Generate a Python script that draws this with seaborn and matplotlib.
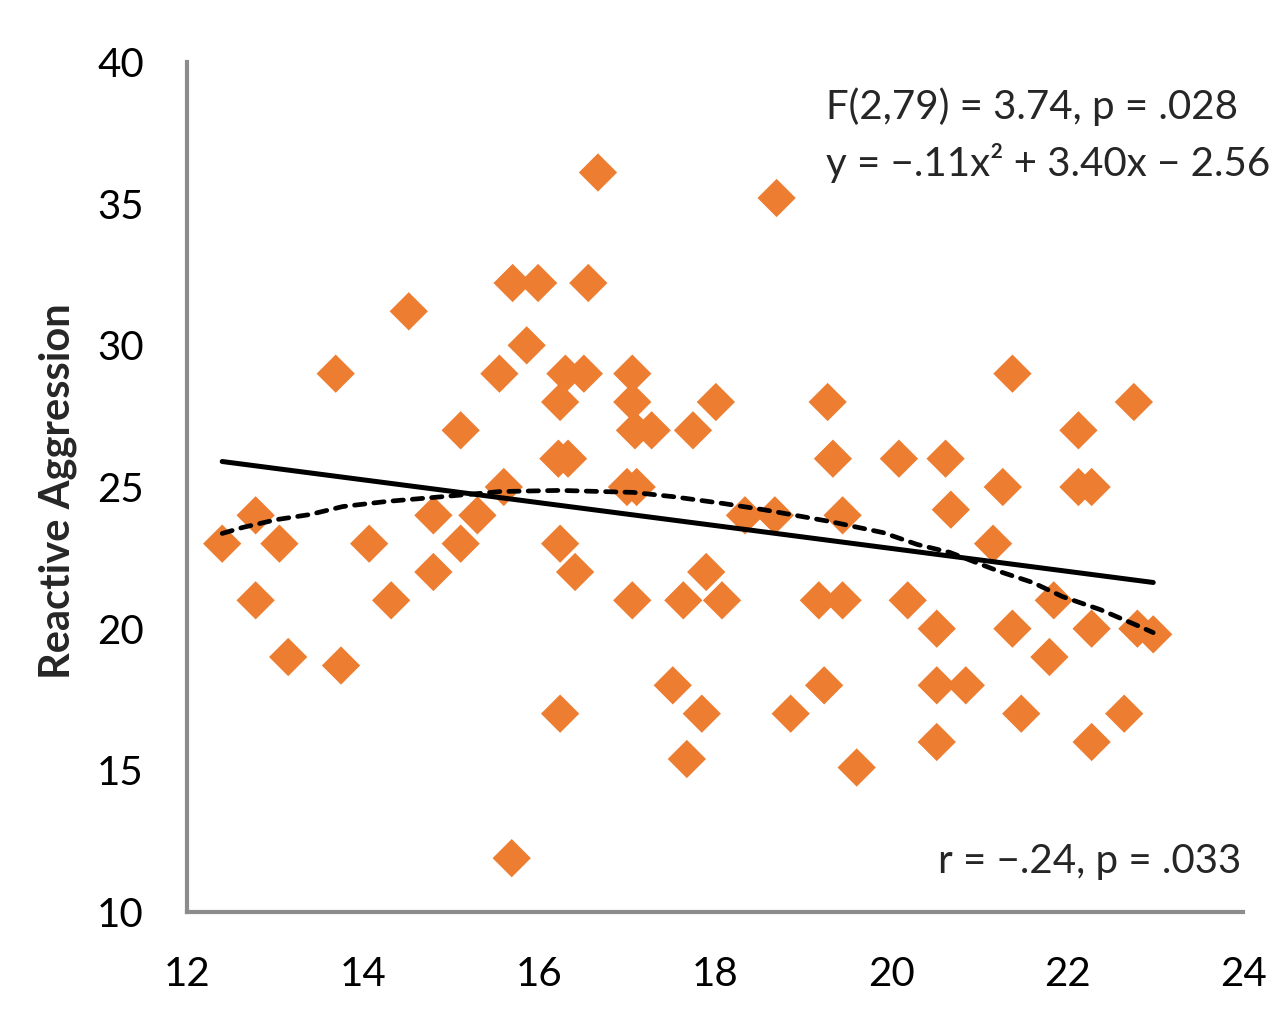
import matplotlib
matplotlib.use("Agg")
import matplotlib.pyplot as plt
import seaborn as sns
import pandas as pd

# Scatter data (age vs reactive aggression)
age = [12.40, 12.78, 12.78, 13.05, 13.15, 13.69, 13.75, 14.07, 14.32, 14.52,
       14.80, 14.80, 15.11, 15.11, 15.30, 15.55, 15.60, 15.70, 15.69, 15.99,
       15.86, 16.22, 16.33, 16.24, 16.30, 16.51, 16.56, 16.67, 16.24, 16.41,
       16.24, 17.06, 17.06, 17.09, 17.28, 17.00, 17.11, 17.06, 17.75, 18.01,
       17.90, 17.64, 18.08, 17.52, 17.85, 17.68, 18.34, 18.68, 18.70, 18.86,
       19.28, 19.34, 19.45, 19.18, 19.45, 19.24, 19.61, 20.09, 20.62, 20.68,
       20.19, 20.52, 20.52, 20.85, 20.52, 21.16, 21.27, 21.38, 21.38, 21.48,
       21.85, 21.80, 22.13, 22.13, 22.28, 22.28, 22.28, 22.65, 22.76, 22.80,
       22.98]
aggression = [23, 24, 21, 23, 19, 29, 18.7, 23, 21, 31.2,
              24, 22, 27, 23, 24, 29, 25, 32.2, 11.9, 32.2,
              30, 26, 26, 28, 29, 29, 32.2, 36.1, 23, 22,
              17, 29, 28, 27, 27, 25, 25, 21, 27, 28,
              22, 21, 21, 18, 17, 15.4, 24, 24, 35.2, 17,
              28, 26, 24, 21, 21, 18, 15.1, 26, 26, 24.2,
              21, 20, 18, 18, 16, 23, 25, 29, 20, 17,
              21, 19, 27, 25, 25, 20, 16, 17, 28, 20,
              19.8]

# Linear trend line endpoints
linear_x = [12.40, 22.98]
linear_y = [25.90, 21.63]

# Dashed (quadratic / smoothed) trend
curve_x = [12.40, 12.63, 13.02, 13.40, 13.77, 14.27, 14.91, 15.56, 16.24, 17.07,
           17.52, 18.09, 18.55, 19.31, 19.91, 20.30, 20.67, 21.24, 21.61, 21.95,
           22.38, 22.83, 22.98]
curve_y = [23.36, 23.57, 23.85, 24.03, 24.31, 24.49, 24.66, 24.84, 24.88, 24.81,
           24.66, 24.42, 24.20, 23.78, 23.39, 22.97, 22.69, 22.01, 21.63, 21.13,
           20.67, 20.07, 19.86]

x_ticks = [12, 14, 16, 18, 20, 22, 24]
y_ticks = [10, 15, 20, 25, 30, 35, 40]

df = pd.DataFrame({"age": age, "aggression": aggression})

sns.set_theme(style="white")
plt.rcParams["font.family"] = ["Lato", "DejaVu Sans"]

fig = plt.figure(figsize=(12.87, 10.16), dpi=100)
ax = fig.add_axes([187 / 1287, 1 - 912 / 1016, (1243 - 187) / 1287, (912 - 62) / 1016])

sns.scatterplot(data=df, x="age", y="aggression", marker="D", s=380,
                color="#ED7D31", edgecolor="none", ax=ax, zorder=2)
sns.lineplot(x=linear_x, y=linear_y, color="black", linewidth=3.6,
             solid_capstyle="round", ax=ax, zorder=3)
sns.lineplot(x=curve_x, y=curve_y, color="black", linewidth=3.4, sort=False,
             estimator=None, dashes=False, ax=ax, zorder=3)
ax.lines[-1].set_linestyle((0, (2.2, 1.9)))
ax.lines[-1].set_dash_capstyle("round")

ax.set_xlim(12, 24)
ax.set_ylim(10, 40)
ax.set_xticks(x_ticks)
ax.set_yticks(y_ticks)
ax.set_xticklabels([str(t) for t in x_ticks])
ax.set_yticklabels([str(t) for t in y_ticks])
ax.tick_params(axis="both", length=0, labelsize=29, colors="black")
ax.tick_params(axis="x", pad=32)
ax.tick_params(axis="y", pad=31)

ax.set_xlabel("")
ax.set_ylabel("Reactive Aggression", fontsize=30, fontweight="bold")
ax.yaxis.set_label_coords(-0.104, 0.495)

sns.despine(ax=ax)
for side in ["left", "bottom"]:
    ax.spines[side].set_color("#8C8C8C")
    ax.spines[side].set_linewidth(3)

ax.text(826 / 1287, 1 - 107 / 1016, "F(2,79) = 3.74, p = .028", transform=fig.transFigure,
        fontsize=29, ha="left", va="center")
ax.text(826 / 1287, 1 - 163 / 1016, "y = \u2212.11x\u00b2 + 3.40x \u2212 2.56", transform=fig.transFigure,
        fontsize=29, ha="left", va="center")
ax.text(938 / 1287, 1 - 862 / 1016, "r = \u2212.24, p = .033", transform=fig.transFigure,
        fontsize=29, ha="left", va="center")

fig.savefig("out.png", dpi=100)
